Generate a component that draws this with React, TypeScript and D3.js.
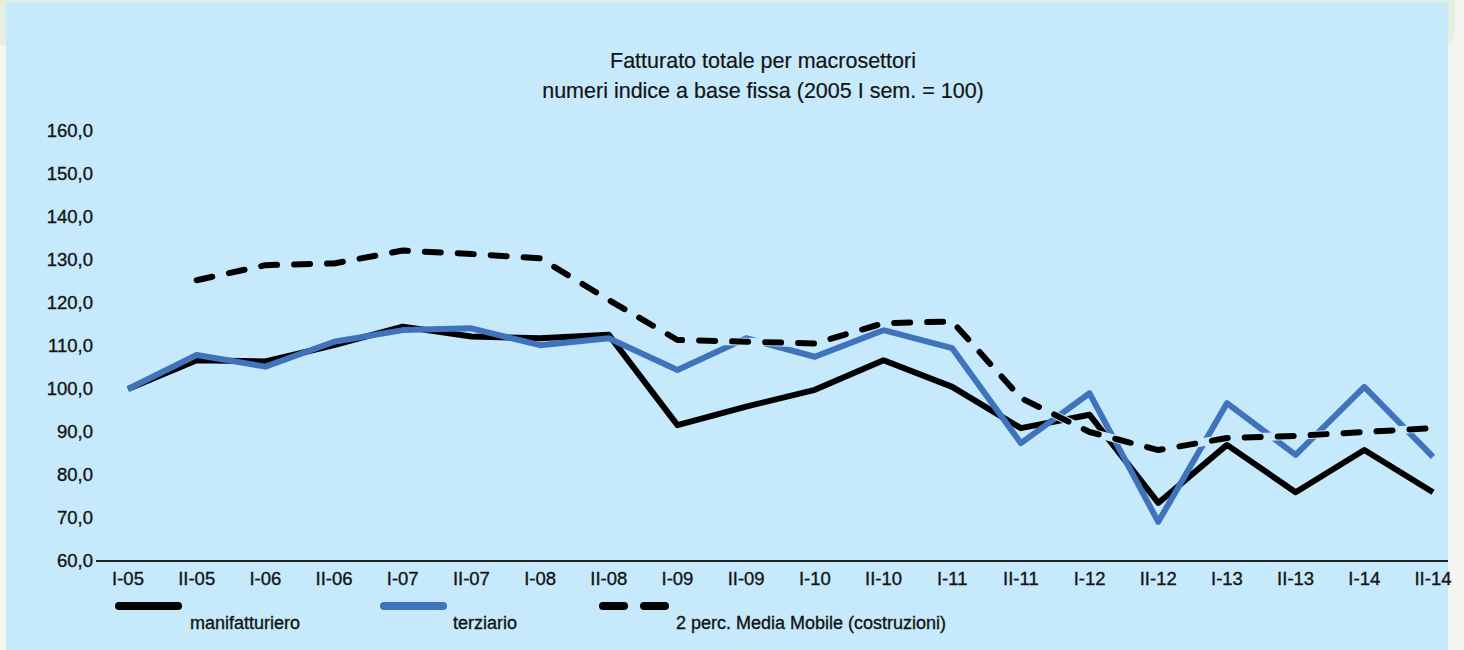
import React from "react";
import * as d3 from "d3";

const labels = ["I-05","II-05","I-06","II-06","I-07","II-07","I-08","II-08","I-09","II-09","I-10","II-10","I-11","II-11","I-12","II-12","I-13","II-13","I-14","II-14"];
const manifatturiero = [100,106.7,106.4,110.2,114.5,112.2,111.8,112.6,91.6,95.9,99.8,106.7,100.5,90.9,94.0,73.5,87.0,76.0,85.8,76.0];
const terziario = [100,107.9,105.2,111.0,113.7,114.1,110.2,111.8,104.4,111.8,107.5,113.7,109.5,87.4,99.0,69.1,96.7,84.7,100.5,84.2];
const costruzioni: (number|null)[] = [null,125.3,128.8,129.2,132.2,131.4,130.4,120.7,111.4,111.0,110.6,115.3,115.7,97.9,90.0,85.8,88.6,89.1,90.0,90.9];
const yTicks = [60,70,80,90,100,110,120,130,140,150,160];
const seriesNames = ["manifatturiero","terziario","2 perc. Media Mobile (costruzioni)"];
const titleLines = ["Fatturato totale per macrosettori","numeri indice a base fissa (2005 I sem. = 100)"];

const W = 1464, H = 650;
const BG = "#c6e9fc";
const BLUE = "#3f73bc";
const FONT = "'Liberation Sans', Arial, sans-serif";
const TXT = "#141414";

export default function App() {
  const x = d3.scalePoint<string>().domain(labels).range([128, 1433]);
  const y = d3.scaleLinear().domain([60, 160]).range([561, 131]);
  const fmt = (v: number) => d3.format(".1f")(v).replace(".", ",");
  const line = d3.line<number | null>()
    .defined(d => d != null)
    .x((_, i) => x(labels[i]) as number)
    .y(d => y(d as number));

  const legendX = [115, 380, 599];
  const heavy = { stroke: TXT, strokeWidth: 0.35 };
  return (
    <svg width={W} height={H} style={{ position: "absolute", left: 0, top: 0 }} fontFamily={FONT}>
      <rect x={0} y={0} width={W} height={H} fill="#f4f5f0" />
      <rect x={-20} y={-40} width={1475} height={85} rx={12} fill="#e5efe0" />
      <rect x={6} y={2} width={1442} height={H} fill={BG} />
      <g fill={TXT} textAnchor="middle" fontSize={21.5} {...heavy} strokeWidth={0.2}>
        {titleLines.map((t, i) => (
          <text key={i} x={763} y={68 + i * 30}>{t}</text>
        ))}
      </g>
      <g fill={TXT} textAnchor="end" fontSize={18.5} {...heavy}>
        {yTicks.map(t => (
          <text key={t} x={93} y={y(t)} dy="0.35em">{fmt(t)}</text>
        ))}
      </g>
      <line x1={96} x2={1448} y1={y(60)} y2={y(60)} stroke="#222" strokeWidth={2} />
      <g fill={TXT} textAnchor="middle" fontSize={18.5} {...heavy}>
        {labels.map(l => (
          <text key={l} x={x(l)} y={585}>{l}</text>
        ))}
      </g>
      <g fill="none" strokeLinejoin="round">
        <path d={line(manifatturiero) || ""} stroke="#000" strokeWidth={6} />
        <path d={line(terziario) || ""} stroke={BLUE} strokeWidth={6} />
        <path d={line(costruzioni) || ""} stroke={BG} strokeWidth={8} />
        <path d={line(costruzioni) || ""} stroke="#000" strokeWidth={6} strokeDasharray="16 17" strokeLinecap="round" />
      </g>
      <g>
        <line x1={legendX[0] + 4} x2={legendX[0] + 63} y1={606} y2={606} stroke="#000" strokeWidth={8} strokeLinecap="round" />
        <line x1={legendX[1] + 4} x2={legendX[1] + 63} y1={606} y2={606} stroke={BLUE} strokeWidth={8} strokeLinecap="round" />
        <line x1={legendX[2] + 4} x2={legendX[2] + 66} y1={606} y2={606} stroke="#000" strokeWidth={8} strokeLinecap="round" strokeDasharray="21 20" />
        <g fill={TXT} fontSize={18} {...heavy}>
          <text x={190} y={629}>{seriesNames[0]}</text>
          <text x={453} y={629}>{seriesNames[1]}</text>
          <text x={676} y={629}>{seriesNames[2]}</text>
        </g>
      </g>
    </svg>
  );
}
